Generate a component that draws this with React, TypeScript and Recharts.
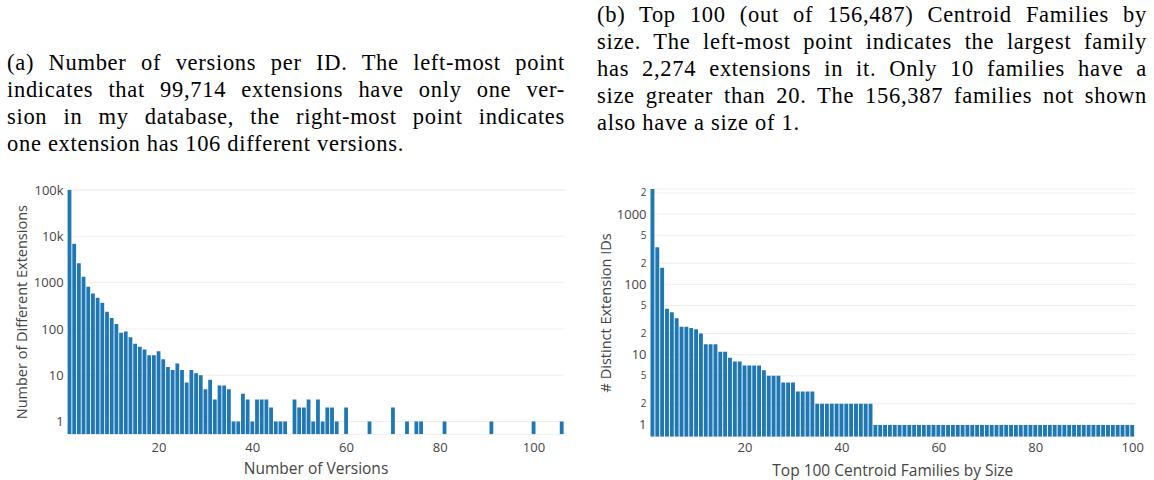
import { BarChart, Bar, XAxis, YAxis, CartesianGrid, Label } from "recharts";

// (a) number of versions per extension ID
const versionNumbers = [
  1, 2, 3, 4, 5, 6, 7, 8, 9, 10, 11, 12, 13, 14, 15, 16, 17, 18, 19, 20,
  21, 22, 23, 24, 25, 26, 27, 28, 29, 30, 31, 32, 33, 34, 35, 36, 37, 38, 39, 40,
  41, 42, 43, 44, 45, 46, 47, 49, 50, 51, 52, 53, 54, 55, 56, 57, 58, 60,
  65, 70, 73, 75, 76, 81, 91, 100, 106,
];
const extensionCounts = [
  99714, 6900, 2600, 1330, 810, 580, 470, 365, 235, 172, 128, 83, 88, 66, 48, 41, 36, 27, 27, 33,
  22, 15, 13, 18, 13, 7, 13, 11, 10, 5, 8, 3, 6, 6, 5, 1, 1, 4, 3, 1,
  3, 3, 3, 2, 1, 1, 1, 3, 2, 2, 3, 1, 3, 1, 2, 2, 1, 2,
  1, 2, 1, 1, 1, 1, 1, 1, 1,
];
const versionTicksX = [20, 40, 60, 80, 100];
const versionTicksY = [1, 10, 100, 1000, 10000, 100000];
const versionTickLabels = ["1", "10", "100", "1000", "10k", "100k"];

// (b) top 100 centroid families, sizes in rank order
const familySizes = [
  2274, 338, 173, 45, 40, 33, 25, 25, 24, 23, 20, 14, 14, 14, 11, 11, 9, 8, 8, 7,
  7, 7, 7, 6, 5, 5, 5, 4, 4, 4, 3, 3, 3, 3, 2, 2, 2, 2, 2, 2,
  2, 2, 2, 2, 2, 2, 1, 1, 1, 1, 1, 1, 1, 1, 1, 1, 1, 1, 1, 1,
  1, 1, 1, 1, 1, 1, 1, 1, 1, 1, 1, 1, 1, 1, 1, 1, 1, 1, 1, 1,
  1, 1, 1, 1, 1, 1, 1, 1, 1, 1, 1, 1, 1, 1, 1, 1, 1, 1, 1, 1,
];
const familyTicksX = [20, 40, 60, 80, 100];
const familyTicksY = [1, 2, 5, 10, 20, 50, 100, 200, 500, 1000, 2000];
const familyTickLabels = ["1", "2", "5", "10", "2", "5", "100", "2", "5", "1000", "2"];
const familyMajorTicks = [1, 10, 100, 1000];

const captionA = [
  "(a) Number of versions per ID. The left-most point",
  "indicates that 99,714 extensions have only one ver-",
  "sion in my database, the right-most point indicates",
  "one extension has 106 different versions.",
];
const captionB = [
  "(b) Top 100 (out of 156,487) Centroid Families by",
  "size. The left-most point indicates the largest family",
  "has 2,274 extensions in it. Only 10 families have a",
  "size greater than 20. The 156,387 families not shown",
  "also have a size of 1.",
];

const BLUE = "#1f77b4";
const FONT = "'Open Sans', sans-serif";
const tickStyle = { fontSize: 13, fill: "#444", fontFamily: FONT };

function FamilyTick(props: any) {
  const { x, y, payload } = props;
  const i = familyTicksY.findIndex((t) => Math.abs(t - payload.value) < 1e-6 * t);
  const major = familyMajorTicks.includes(familyTicksY[i]);
  return (
    <text
      x={x}
      y={y}
      dy="0.35em"
      textAnchor="end"
      fontSize={major ? 13 : 10}
      fill="#444"
      fontFamily={FONT}
    >
      {familyTickLabels[i]}
    </text>
  );
}

function Caption({ lines, left, top, width }: { lines: string[]; left: number; top: number; width: number }) {
  return (
    <div
      style={{
        position: "absolute",
        left,
        top,
        width,
        fontFamily: "'Liberation Serif', serif",
        fontSize: 22.5,
        letterSpacing: "0.7px",
        lineHeight: "27px",
        color: "#000",
      }}
    >
      {lines.map((l, i) => (
        <div
          key={i}
          style={{
            textAlign: "justify",
            textAlignLast: i === lines.length - 1 ? "left" : "justify",
            whiteSpace: "nowrap",
          }}
        >
          {l}
        </div>
      ))}
    </div>
  );
}

export default function App() {
  const versionData = versionNumbers.map((v, i) => ({ v, count: extensionCounts[i] }));
  const familyData = familySizes.map((s, i) => ({ rank: i + 1, size: s }));

  return (
    <div style={{ position: "absolute", left: 0, top: 0, width: 1154, height: 480, background: "#fff" }}>
      <Caption lines={captionA} left={7} top={49} width={558} />
      <Caption lines={captionB} left={597} top={1} width={550} />

      <div style={{ position: "absolute", left: 0, top: 0 }}>
        <BarChart width={577} height={480} data={versionData} margin={{ top: 190, right: 12.5, bottom: 0, left: 7.6 }}>
          <CartesianGrid vertical={false} stroke="#eee" />
          <XAxis
            dataKey="v"
            type="number"
            domain={[0.5, 106.5]}
            ticks={versionTicksX}
            interval={0}
            axisLine={false}
            tickLine={false}
            tickSize={0}
            tickMargin={8}
            height={45.7}
            tick={tickStyle}
          >
            <Label value="Number of Versions" position="insideBottom" offset={6} style={{ fontSize: 15.5, fill: "#444", fontFamily: FONT }} />
          </XAxis>
          <YAxis
            type="number"
            scale="log"
            domain={[0.53, 99714]}
            allowDataOverflow
            ticks={versionTicksY}
            interval={0}
            tickFormatter={(v: number) => versionTickLabels[versionTicksY.indexOf(v)]}
            axisLine={false}
            tickLine={false}
            tickSize={0}
            tickMargin={4}
            width={60}
            tick={tickStyle}
          >
            <Label
              value="Number of Different Extensions"
              angle={-90}
              position="insideLeft"
              offset={14}
              style={{ fontSize: 14.5, fill: "#444", fontFamily: FONT, textAnchor: "middle" }}
            />
          </YAxis>
          <Bar dataKey="count" fill={BLUE} barSize={3.8} isAnimationActive={false} />
        </BarChart>
      </div>

      <div style={{ position: "absolute", left: 577, top: 0 }}>
        <BarChart width={577} height={480} data={familyData} margin={{ top: 189, right: 18.9, bottom: 0, left: 13.5 }}>
          <CartesianGrid vertical={false} stroke="#eee" />
          <XAxis
            dataKey="rank"
            type="number"
            domain={[0.5, 100.5]}
            ticks={familyTicksX}
            interval={0}
            axisLine={false}
            tickLine={false}
            tickSize={0}
            tickMargin={6.5}
            height={43.3}
            tick={tickStyle}
          >
            <Label value="Top 100 Centroid Families by Size" position="insideBottom" offset={4} style={{ fontSize: 15.5, fill: "#444", fontFamily: FONT }} />
          </XAxis>
          <YAxis
            type="number"
            scale="log"
            domain={[0.68, 2274]}
            allowDataOverflow
            ticks={familyTicksY}
            interval={0}
            axisLine={false}
            tickLine={false}
            tickSize={0}
            tickMargin={4}
            width={60}
            tick={<FamilyTick />}
          >
            <Label
              value="# Distinct Extension IDs"
              angle={-90}
              position="insideLeft"
              offset={15.5}
              style={{ fontSize: 14.5, fill: "#444", fontFamily: FONT, textAnchor: "middle" }}
            />
          </YAxis>
          <Bar dataKey="size" fill={BLUE} barSize={3.9} isAnimationActive={false} />
        </BarChart>
      </div>
    </div>
  );
}
